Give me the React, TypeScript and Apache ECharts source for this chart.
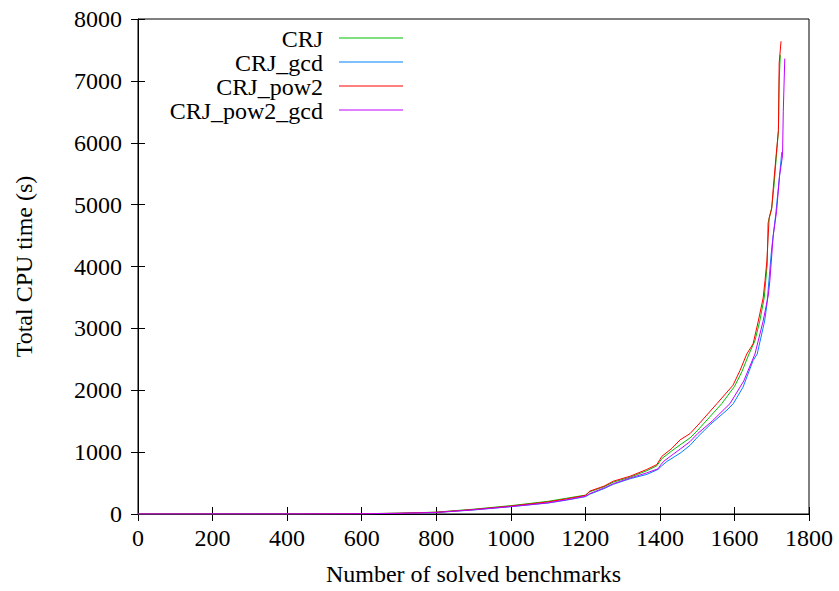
import React, { useEffect, useRef } from "react";
import * as echarts from "echarts";

const seriesNames = ["CRJ", "CRJ_gcd", "CRJ_pow2", "CRJ_pow2_gcd"];
const seriesColors = ["#00c000", "#0080ff", "#ff0000", "#c000ff"];

const crj: [number, number][] = [
  [1, 0], [400, 1], [600, 5], [700, 13], [800, 30], [900, 78], [1000, 135], [1100, 205], [1150, 255],
  [1200, 305], [1212, 360], [1250, 440], [1275, 515], [1320, 595], [1365, 700], [1392, 780], [1400, 850],
  [1406, 900], [1432, 1020], [1454, 1117], [1481, 1230], [1502, 1357], [1566, 1784], [1600, 2060],
  [1620, 2300], [1639, 2585], [1655, 2800], [1668, 3119], [1680, 3500], [1688, 4040], [1690, 4700],
  [1700, 4950], [1706, 5300], [1712, 5750], [1718, 6200], [1720, 7000], [1723, 7420],
];

const crjGcd: [number, number][] = [
  [1, 0], [400, 1], [600, 4], [700, 10], [800, 24], [900, 65], [1000, 118], [1100, 178], [1150, 225],
  [1200, 280], [1212, 320], [1250, 410], [1275, 480], [1320, 570], [1365, 640], [1395, 720], [1405, 780],
  [1419, 850], [1454, 982], [1481, 1110], [1502, 1250], [1534, 1440], [1580, 1680], [1597, 1784],
  [1623, 2050], [1650, 2480], [1661, 2585], [1681, 3119], [1687, 3380], [1700, 4300], [1710, 4800],
  [1720, 5400], [1727, 5850],
];

const crjPow2: [number, number][] = [
  [1, 0], [400, 1], [600, 5], [700, 12], [800, 28], [900, 72], [1000, 128], [1100, 195], [1150, 245],
  [1200, 300], [1212, 370], [1250, 450], [1275, 530], [1320, 610], [1365, 720], [1392, 800], [1400, 880],
  [1405, 930], [1432, 1060], [1454, 1197], [1481, 1300], [1502, 1437], [1553, 1784], [1596, 2080],
  [1615, 2320], [1633, 2585], [1650, 2750], [1664, 3119], [1677, 3490], [1682, 3770], [1687, 4090],
  [1693, 4780], [1700, 4940], [1704, 5260], [1711, 5740], [1718, 6200], [1720, 7290], [1725, 7640],
];

const crjPow2Gcd: [number, number][] = [
  [1, 0], [400, 1], [600, 4], [700, 11], [800, 25], [900, 68], [1000, 120], [1100, 180], [1150, 230],
  [1200, 285], [1212, 330], [1250, 420], [1275, 490], [1320, 580], [1365, 665], [1395, 730], [1403, 800],
  [1410, 850], [1432, 950], [1454, 1047], [1481, 1170], [1502, 1303], [1540, 1500], [1588, 1784],
  [1625, 2150], [1655, 2585], [1677, 3119], [1691, 3540], [1695, 3770], [1704, 4500], [1713, 4890],
  [1721, 5470], [1729, 5790], [1731, 6500], [1735, 7360],
];

const allData = [crj, crjGcd, crjPow2, crjPow2Gcd];

const FONT = "Liberation Serif";
const FS = 24;

export default function App() {
  const ref = useRef<HTMLDivElement>(null);
  useEffect(() => {
    if (!ref.current) return;
    const chart = echarts.init(ref.current, null, { renderer: "svg" });
    const left = 138, right = 30, top = 19, bottom = 73;
    const tickCommon = { show: true, inside: true, length: 7, lineStyle: { color: "#000", width: 1 } };
    const legendGraphics: any[] = [];
    seriesNames.forEach((n, i) => {
      const y = 38 + i * 24;
      legendGraphics.push({
        type: "text", x: 323, y: y + 1,
        style: { text: n, fontFamily: FONT, fontSize: FS, fill: "#000", align: "right", verticalAlign: "middle" },
        z: 100,
      });
      legendGraphics.push({
        type: "line", shape: { x1: 339, y1: y, x2: 403, y2: y },
        style: { stroke: seriesColors[i], lineWidth: 1 }, z: 100,
      });
    });
    const plain = (v: number) => String(v);
    chart.setOption({
      animation: false,
      backgroundColor: "#fff",
      textStyle: { fontFamily: FONT, fontSize: FS, color: "#000" },
      grid: { left, right, top, bottom, show: true, borderColor: "#000", borderWidth: 1, backgroundColor: "transparent" },
      xAxis: [
        {
          type: "value", min: 0, max: 1800, interval: 200,
          name: "Number of solved benchmarks", nameLocation: "middle", nameGap: 48,
          nameTextStyle: { fontFamily: FONT, fontSize: FS, color: "#000" },
          axisLine: { show: true, lineStyle: { color: "#000", width: 1 } },
          axisTick: tickCommon,
          axisLabel: { fontFamily: FONT, fontSize: FS, color: "#000", margin: 12, formatter: plain },
          splitLine: { show: false },
        },
        {
          type: "value", min: 0, max: 1800, interval: 200, position: "top",
          axisLine: { show: false }, axisTick: tickCommon, axisLabel: { show: false }, splitLine: { show: false },
        },
      ],
      yAxis: [
        {
          type: "value", min: 0, max: 8000, interval: 1000,
          name: "Total CPU time (s)", nameLocation: "middle", nameGap: 102, nameRotate: 90,
          nameTextStyle: { fontFamily: FONT, fontSize: FS, color: "#000" },
          axisLine: { show: true, lineStyle: { color: "#000", width: 1 } },
          axisTick: tickCommon,
          axisLabel: { fontFamily: FONT, fontSize: FS, color: "#000", margin: 16, formatter: plain },
          splitLine: { show: false },
        },
        {
          type: "value", min: 0, max: 8000, interval: 1000, position: "right",
          axisLine: { show: false }, axisTick: tickCommon, axisLabel: { show: false }, splitLine: { show: false },
        },
      ],
      series: seriesNames.map((n, i) => ({
        name: n, type: "line", data: allData[i], showSymbol: false, symbol: "none",
        lineStyle: { color: seriesColors[i], width: 1 }, itemStyle: { color: seriesColors[i] },
        xAxisIndex: 0, yAxisIndex: 0,
      })),
      graphic: legendGraphics,
    });
    return () => chart.dispose();
  }, []);
  return <div ref={ref} style={{ position: "fixed", left: 0, top: 0, width: 839, height: 591 }} />;
}
